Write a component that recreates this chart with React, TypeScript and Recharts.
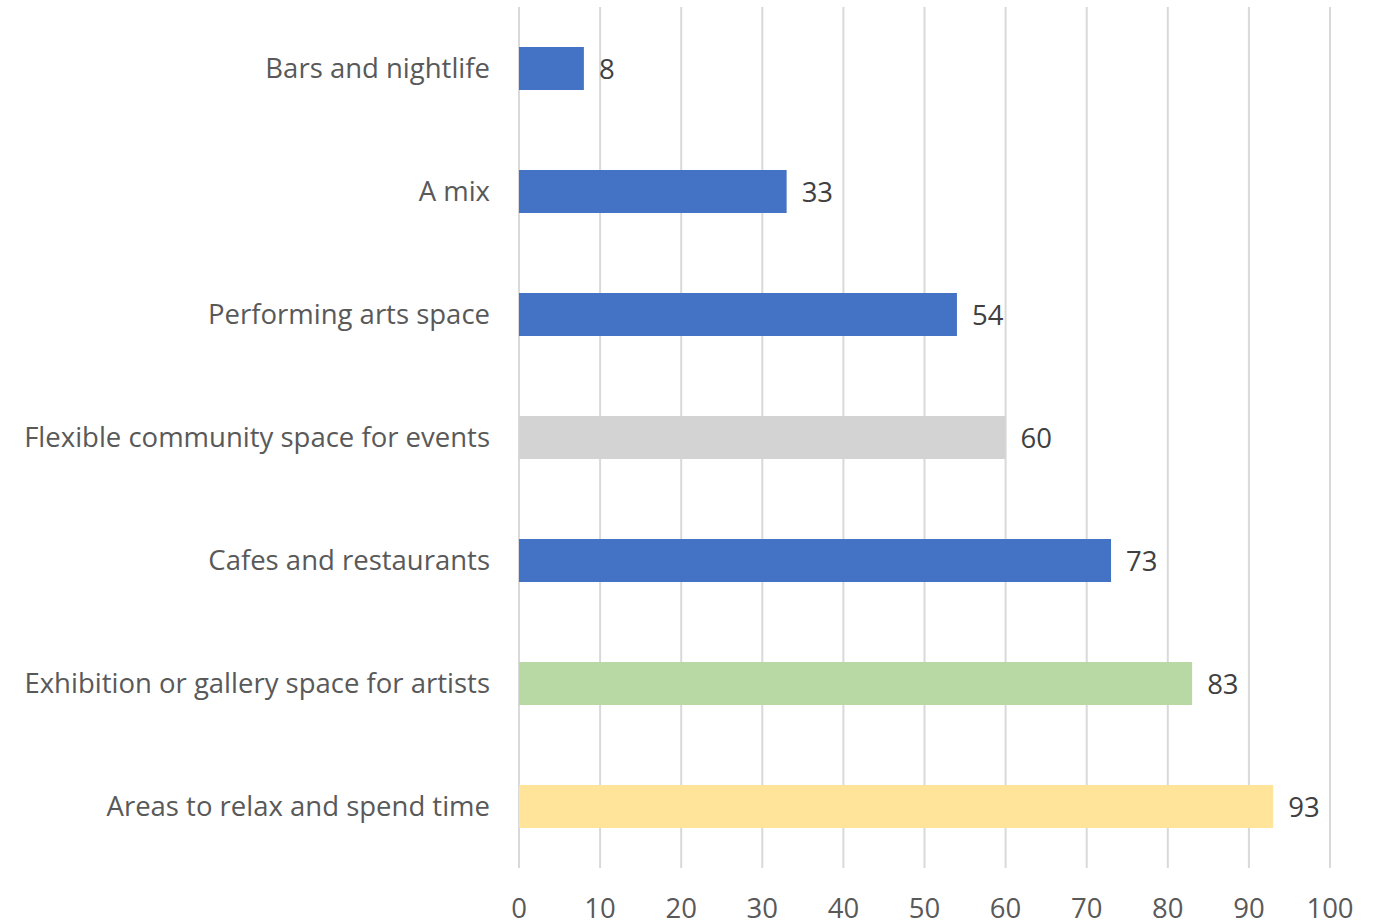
import React from "react";
import { BarChart, Bar, XAxis, YAxis, CartesianGrid, Cell, LabelList } from "recharts";

const categories = [
  "Bars and nightlife",
  "A mix",
  "Performing arts space",
  "Flexible community space for events",
  "Cafes and restaurants",
  "Exhibition or gallery space for artists",
  "Areas to relax and spend time",
];
const values = [8, 33, 54, 60, 73, 83, 93];
const barColors = ["#4472C4", "#4472C4", "#4472C4", "#D3D3D3", "#4472C4", "#B8D9A3", "#FFE499"];
const xTicks = [0, 10, 20, 30, 40, 50, 60, 70, 80, 90, 100];

const data = categories.map((name, i) => ({ name, value: values[i] }));

const FONT = "'Open Sans', Lato, sans-serif";
const FS = 27.5;

export default function App() {
  return (
    <div style={{ position: "absolute", left: 0, top: 0, width: 1380, height: 924, overflow: "hidden", background: "#fff" }}>
      <BarChart
        width={1380}
        height={950}
        data={data}
        layout="vertical"
        margin={{ top: 7, right: 50, bottom: 22, left: 1 }}
        barCategoryGap="32.5%"
      >
        <CartesianGrid horizontal={false} stroke="#D9D9D9" strokeWidth={2} />
        <XAxis
          type="number"
          domain={[0, 100]}
          ticks={xTicks}
          axisLine={false}
          tickLine={false}
          tickSize={0}
          tickMargin={30}
          height={60}
          tick={{ fill: "#595959", fontSize: FS, fontFamily: FONT }}
        />
        <YAxis
          type="category"
          dataKey="name"
          width={518}
          axisLine={false}
          tickLine={false}
          tickSize={0}
          tickMargin={29}
          tick={{ fill: "#595959", fontSize: FS, fontFamily: FONT }}
        />
        <Bar dataKey="value" isAnimationActive={false}>
          {data.map((d, i) => (
            <Cell key={d.name} fill={barColors[i]} />
          ))}
          <LabelList
            dataKey="value"
            position="right"
            offset={15}
            fill="#404040"
            fontSize={FS}
            fontFamily={FONT}
            dy={1}
          />
        </Bar>
      </BarChart>
    </div>
  );
}
